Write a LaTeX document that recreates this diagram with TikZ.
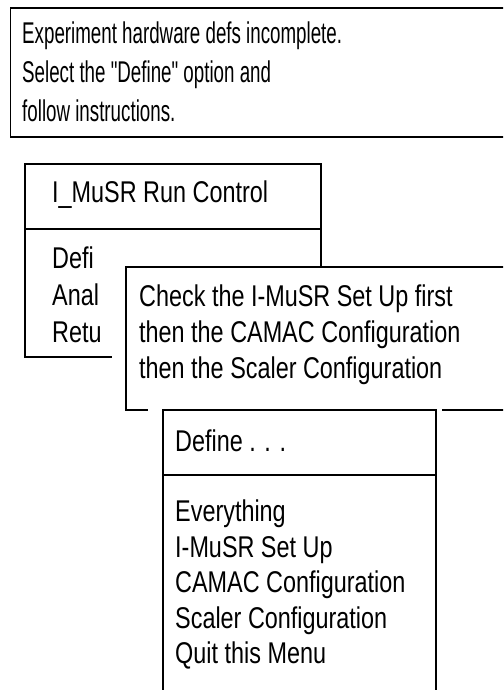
\documentclass[tikz,border=0pt]{standalone}
\usepackage{fontspec}
\setmainfont{Liberation Sans}[FakeStretch=0.78]
\newfontfamily\notefont{Liberation Sans}[FakeStretch=0.625]
\tikzset{
  window/.style={draw,line width=1.2pt},
  mask/.style={fill=white},
  menutext/.style={anchor=north west,inner sep=0pt,align=left,font=\fontsize{30}{36}\selectfont},
}
\begin{document}
\begin{tikzpicture}[x=1pt,y=-1pt]
\clip (0,0) rectangle (503,690);
% message window
\draw[window] (10.5,8) rectangle (520,137);
\node[menutext,font=\notefont\fontsize{30}{39}\selectfont] (msg) at (22,22)
  {Experiment hardware defs incomplete.\\Select the "Define" option and\\follow instructions.};
% run control menu
\draw[window] (25,164) rectangle (321,357);
\draw[window] (25,229) -- (321,229);
\node[menutext] (runtitle) at (52,181) {I\_MuSR Run Control};
\node[menutext,font=\fontsize{30}{37}\selectfont] (runitems) at (52,247) {Defi\\Anal\\Retu};
% hint window
\fill[mask] (112,267) rectangle (520,420);
\draw[window] (126,267) rectangle (520,410);
\node[menutext] (hint) at (139,285)
  {Check the I-MuSR Set Up first\\then the CAMAC Configuration\\then the Scaler Configuration};
% define menu
\fill[mask] (148,402) rectangle (442,700);
\draw[window] (163,410) rectangle (436,700);
\draw[window] (163,475) -- (436,475);
\node[menutext] (deftitle) at (175,430) {Define . . .};
\node[menutext,font=\fontsize{30}{35.5}\selectfont] (defitems) at (175,500)
  {Everything\\I-MuSR Set Up\\CAMAC Configuration\\Scaler Configuration\\Quit this Menu};
\end{tikzpicture}
\end{document}
